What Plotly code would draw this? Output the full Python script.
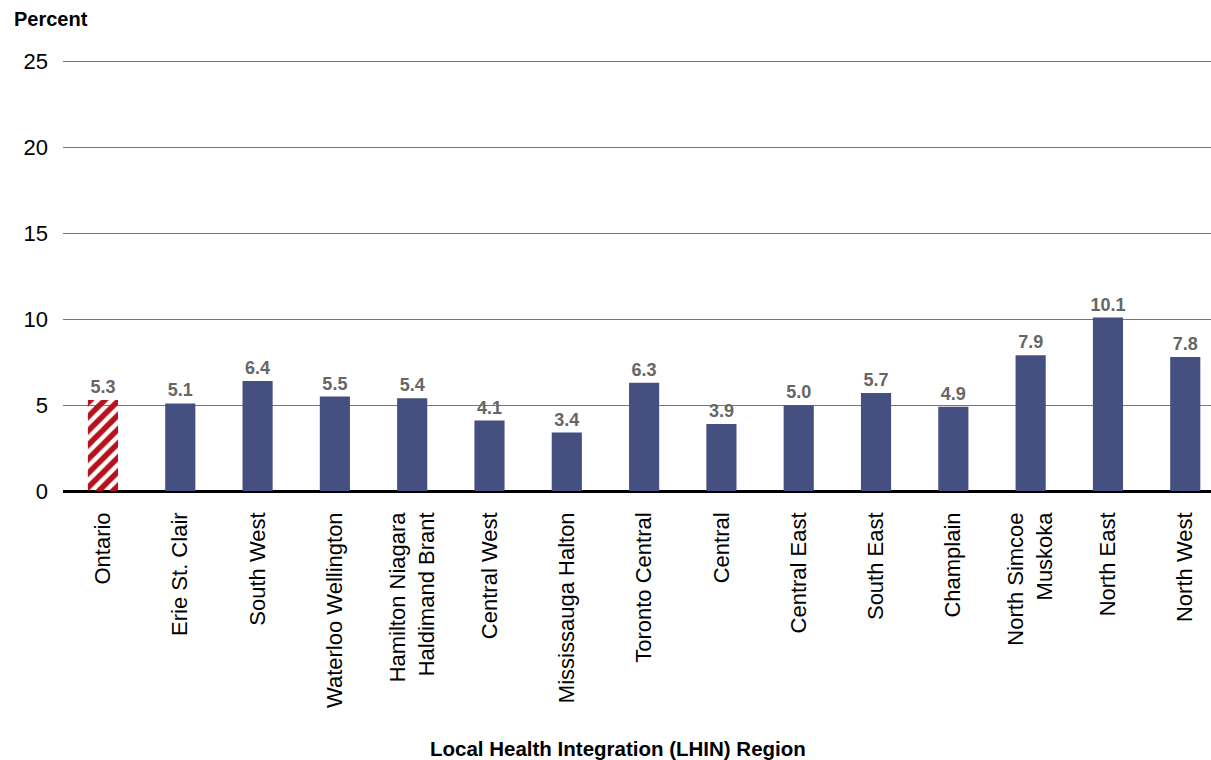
import plotly.graph_objects as go

regions = ['Ontario', 'Erie St. Clair', 'South West', 'Waterloo Wellington',
           'Hamilton Niagara<br>Haldimand Brant', 'Central West', 'Mississauga Halton',
           'Toronto Central', 'Central', 'Central East', 'South East', 'Champlain',
           'North Simcoe<br>Muskoka', 'North East', 'North West']
percent = [5.3, 5.1, 6.4, 5.5, 5.4, 4.1, 3.4, 6.3, 3.9, 5.0, 5.7, 4.9, 7.9, 10.1, 7.8]

colors = ['#b5121b'] + ['#454f80'] * (len(regions) - 1)
shapes = ['/'] + [''] * (len(regions) - 1)

fig = go.Figure(go.Bar(
    x=regions,
    y=percent,
    marker=dict(
        color=colors,
        line=dict(width=0),
        pattern=dict(shape=shapes, fgcolor='#b5121b', bgcolor='white',
                     fillmode='replace', size=10, solidity=0.55),
    ),
    text=['<b>%.1f</b>' % v for v in percent],
    textposition='outside',
    constraintext='none',
    textfont=dict(family='Liberation Sans, Arial', size=18, color='#666666'),
    cliponaxis=False,
))

# plot area is 1148 x 431 px; annotations placed in paper units
fig.update_layout(
    width=1211, height=760,
    margin=dict(l=63, r=0, t=60, b=269),
    plot_bgcolor='white', paper_bgcolor='white',
    font=dict(family='Liberation Sans, Arial', size=22, color='black'),
    bargap=0.61,
    showlegend=False,
    xaxis=dict(
        range=[-0.517, 14.333],
        tickangle=-90,
        showgrid=False,
        showline=False,
        ticks='',
        ticklabelstandoff=16,
    ),
    yaxis=dict(
        range=[0, 25.1],
        tickvals=[0, 5, 10, 15, 20, 25],
        showgrid=True, gridcolor='#777777', gridwidth=1,
        zeroline=True, zerolinecolor='black', zerolinewidth=3,
        ticks='', ticklabelstandoff=14,
    ),
    annotations=[
        dict(text='<b>Percent</b>', x=-51 / 1148, y=1 + (60 - 19) / 431,
             xref='paper', yref='paper', xanchor='left', yanchor='middle',
             showarrow=False, font=dict(size=20)),
        dict(text='<b>Local Health Integration (LHIN) Region</b>',
             x=(618 - 63) / 1148, y=(491 - 748) / 431,
             xref='paper', yref='paper', xanchor='center', yanchor='middle',
             showarrow=False, font=dict(size=20.5)),
    ],
)

fig.write_html("out.html", config={'displayModeBar': False},
               post_script="document.body.style.margin='0';"
                           "Plotly.relayout('{plot_id}', {width: 1211, height: 760});")
